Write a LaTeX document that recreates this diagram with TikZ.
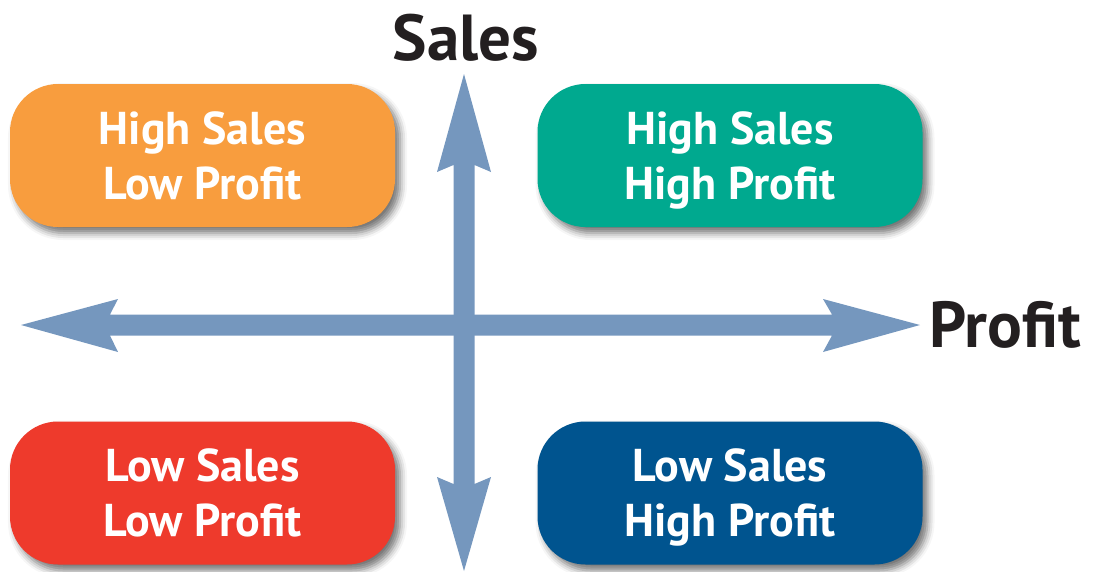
\documentclass[tikz,border=0pt]{standalone}
\usepackage{fontspec}
\setmainfont{PT Sans}
\usetikzlibrary{shadows.blur}
\definecolor{boxorange}{RGB}{248,157,62}
\definecolor{boxgreen}{RGB}{0,169,143}
\definecolor{boxred}{RGB}{238,58,44}
\definecolor{boxblue}{RGB}{0,84,143}
\definecolor{axisblue}{RGB}{117,151,190}
\definecolor{labelblack}{RGB}{35,31,32}
\newcommand{\topstrut}{\rule{0pt}{42pt}}
\tikzset{
  quadbox/.style={rounded corners=48pt, minimum width=385pt, minimum height=143pt,
    inner sep=0pt, text=white, align=center,
    font=\fontsize{46}{55}\selectfont\bfseries,
    blur shadow={shadow xshift=5pt, shadow yshift=-6pt, shadow blur radius=7pt, shadow opacity=55}},
  axisarrow/.style={fill=axisblue, draw=none},
  axislabel/.style={text=labelblack, inner sep=0pt, font=\fontsize{65}{66}\selectfont\bfseries}
}
\begin{document}
\begin{tikzpicture}[x=1pt,y=-1pt]
\useasboundingbox (0,0) rectangle (1098,571);
% boxes
\node[quadbox, fill=boxorange] (hl) at (202.5,155.5) {\topstrut High Sales\\Low Profit\vphantom{g}};
\node[quadbox, fill=boxgreen]  (hh) at (730,155.5) {\topstrut High Sales\\High Profit};
\node[quadbox, fill=boxred]    (ll) at (202.5,493) {\topstrut Low Sales\\Low Profit\vphantom{g}};
\node[quadbox, fill=boxblue]   (lh) at (730,493) {\topstrut Low Sales\\High Profit};
% axes
\path[axisarrow] (464,74) -- (437,172) -- (453.5,165) -- (453.5,484) -- (437,477) -- (464,571)
  -- (491,477) -- (474.5,484) -- (474.5,165) -- (491,172) -- cycle;
\path[axisarrow] (21,325) -- (118,299) -- (110,314.5) -- (832,314.5) -- (823,299) -- (920,325)
  -- (823,352) -- (832,335.5) -- (110,335.5) -- (118,352) -- cycle;
% labels
\node[axislabel, anchor=base] (sales) at (466,60) {Sales};
\node[axislabel, anchor=base west] (profit) at (929,347) {Profit};
\end{tikzpicture}
\end{document}
